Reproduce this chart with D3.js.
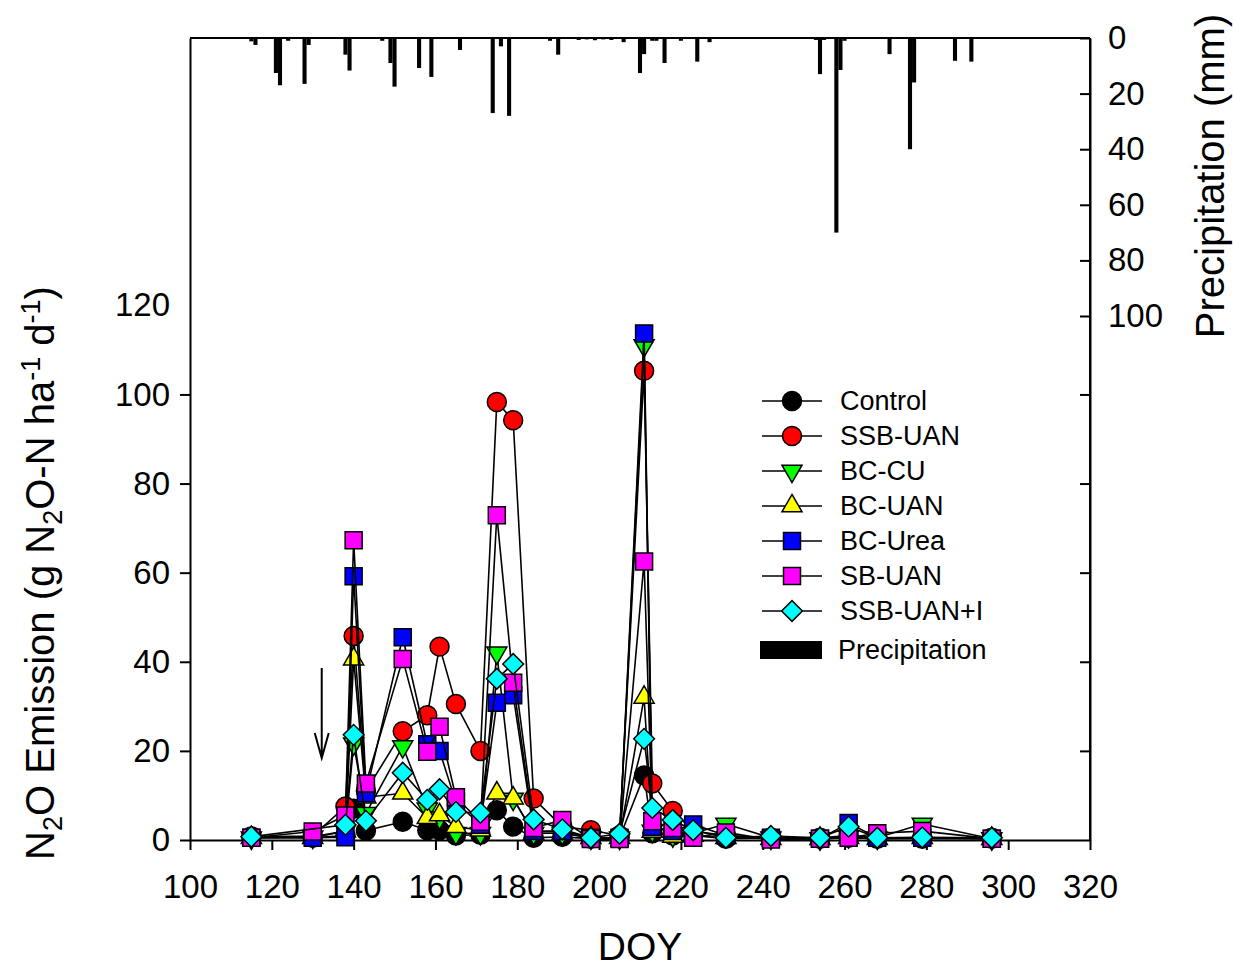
<!DOCTYPE html>
<html>
<head>
<meta charset="utf-8">
<script src="https://cdn.jsdelivr.net/npm/d3@7"></script>
<style>
  body { margin: 0; background: #fff; }
  svg { font-family: "Liberation Sans", Arial, sans-serif; }
  .axis path, .axis line { stroke: #000; stroke-width: 2; }
  .axis text { font-size: 33px; fill: #000; }
</style>
</head>
<body>
<div id="chart"></div>
<script>
// sampling days
const doy = [115,130,138,140,143,152,158,161,165,171,175,179,184,191,198,205,211,213,218,223,231,242,254,261,268,279,296];

// N2O emission (g N2O-N ha-1 d-1) per treatment
const control = [0.8,0.5,1.0,7.0,2.1,4.1,2.2,2.2,1.0,1.2,6.7,3.0,0.5,0.7,0.3,0.5,14.5,1.5,1.0,1.0,0.3,0.5,0.3,0.5,0.3,0.3,0.3];
const ssbUan = [0.7,0.9,7.5,45.8,11.0,24.4,28.0,43.4,30.5,20.0,98.3,94.2,9.3,3.0,2.2,1.0,105.3,12.7,6.5,2.0,1.0,0.5,0.5,1.0,0.5,0.5,0.5];
const bcCu = [0.5,0.7,2.0,21.6,6.0,21.0,7.0,5.0,1.5,1.5,42.0,9.2,1.5,1.5,0.5,0.5,111.0,2.0,1.0,1.5,3.6,0.5,0.3,0.8,0.5,3.6,0.3];
const bcUan = [0.5,0.5,2.0,40.6,9.6,10.5,5.0,5.6,3.0,2.2,10.5,9.4,1.5,1.5,0.5,0.5,32.0,1.9,0.8,1.0,0.5,0.3,0.3,0.5,0.3,0.5,0.3];
const bcUrea = [0.5,0.5,0.6,59.2,10.5,45.5,21.5,20.0,8.5,3.4,30.8,32.5,2.0,2.0,0.5,0.5,113.7,3.0,2.0,3.5,1.0,0.5,0.3,3.8,0.5,0.5,0.3];
const sbUan = [0.5,1.9,5.5,67.3,12.7,40.6,19.8,25.4,9.6,4.1,72.9,35.3,2.7,4.5,0.2,0.2,62.5,4.2,2.7,0.5,1.7,0.1,0.3,0.5,1.5,2.0,0.3];
const ssbUanI = [0.75,null,3.4,23.6,4.3,15.1,9.0,11.4,6.3,6.1,36.2,39.5,4.6,2.4,0.5,1.4,22.7,7.2,4.5,2.2,0.5,0.9,0.5,3.0,0.5,0.6,0.5];

const seriesNames = ["Control","SSB-UAN","BC-CU","BC-UAN","BC-Urea","SB-UAN","SSB-UAN+I"];
const seriesColors = ["#000000","#ff0000","#00ff00","#ffff00","#0000ff","#ff00ff","#00ffff"];

// daily precipitation (mm)
const precipDoy = [115,116,121,122,124,128,129,138,139,147,149,150,156,159,166,174,176,178,188,190,195,197,199,201,203,206,210,211,213,214,216,220,224,227,253,254,255,258,259,260,271,276,277,287,291];
const precipMm = [1.2,2.5,12.6,17,1,16.5,2.5,6,11.7,1,9,17.5,10.8,14,4.3,27,3,28,1,6,0.7,0.5,0.8,0.5,0.7,1.5,12.6,5.8,1,1,9,1,8.5,1.5,0.7,13,0.7,70,11.5,1,5.8,40,16,8.2,8.5];

// tick values
const xTicks = [100,120,140,160,180,200,220,240,260,280,300,320];
const yTicks = [0,20,40,60,80,100,120];
const pTicks = [0,20,40,60,80,100];

// fertilizer application arrow (DOY, from, to)
const arrowDoy = 132.2, arrowFrom = 38.6, arrowTo = 18.4;

let chart_width = 1233;
let chart_height = 969;
let plotLeft = 190, plotRight = 1090, plotTop = 38, plotBottom = 840;

let x = d3.scaleLinear().domain([100, 320]).range([plotLeft, plotRight]);
let y = d3.scaleLinear().domain([0, 180]).range([plotBottom, plotTop]);
let yP = d3.scaleLinear().domain([0, 288.5]).range([plotTop, plotBottom]);

let svg = d3.select("#chart").append("svg")
  .attr("width", chart_width)
  .attr("height", chart_height);

// precipitation bars hanging from the top
let dayW = x(101) - x(100);
svg.append("g").selectAll("rect")
  .data(precipDoy.map((d, i) => ({d: d, v: precipMm[i]})))
  .enter().append("rect")
  .attr("x", d => x(d.d) - dayW / 2)
  .attr("y", plotTop)
  .attr("width", dayW)
  .attr("height", d => yP(d.v) - plotTop)
  .attr("fill", "#000");

// axes
svg.append("g").attr("class", "axis")
  .attr("transform", "translate(0," + plotBottom + ")")
  .call(d3.axisBottom(x).tickValues(xTicks).tickSize(10).tickPadding(25).tickSizeOuter(0));

let yAxis = svg.append("g").attr("class", "axis")
  .attr("transform", "translate(" + plotLeft + ",0)")
  .call(d3.axisLeft(y).tickValues(yTicks).tickSize(10).tickPadding(10).tickSizeOuter(0));
yAxis.selectAll(".tick").filter(d => d === 120).select("line").remove();

svg.append("g").attr("class", "axis")
  .attr("transform", "translate(" + plotRight + ",0)")
  .call(d3.axisRight(y).tickValues([20,40,60,80,100]).tickSize(-10).tickFormat("").tickSizeOuter(0));

svg.append("g").attr("class", "axis")
  .attr("transform", "translate(" + plotRight + ",0)")
  .call(d3.axisRight(yP).tickValues(pTicks).tickSize(-10).tickPadding(18).tickSizeOuter(0))
  .call(g => g.select(".domain").remove());

svg.append("line")
  .attr("x1", plotLeft).attr("x2", plotRight).attr("y1", plotTop).attr("y2", plotTop)
  .attr("stroke", "#000").attr("stroke-width", 2);
svg.append("line")
  .attr("x1", plotRight).attr("x2", plotRight).attr("y1", plotTop).attr("y2", plotBottom)
  .attr("stroke", "#000").attr("stroke-width", 2);

// symbols
let symbols = [
  d3.symbol().type(d3.symbolCircle).size(283),
  d3.symbol().type(d3.symbolCircle).size(283),
  d3.symbol().type(d3.symbolTriangle).size(175),
  d3.symbol().type(d3.symbolTriangle).size(175),
  d3.symbol().type(d3.symbolSquare).size(289),
  d3.symbol().type(d3.symbolSquare).size(289),
  d3.symbol().type(d3.symbolSquare).size(215)
];
let rotations = [0, 0, 180, 0, 0, 0, 45];

let allSeries = [control, ssbUan, bcCu, bcUan, bcUrea, sbUan, ssbUanI];
let line = d3.line().x(d => x(d.d)).y(d => y(d.v));

allSeries.forEach((vals, i) => {
  let pts = doy.map((d, j) => ({d: d, v: vals[j]})).filter(p => p.v != null);
  let g = svg.append("g");
  g.append("path")
    .datum(pts)
    .attr("d", line)
    .attr("fill", "none")
    .attr("stroke", "#000")
    .attr("stroke-width", 1.6);
  g.selectAll("path.pt")
    .data(pts)
    .enter().append("path")
    .attr("class", "pt")
    .attr("d", symbols[i])
    .attr("transform", d => "translate(" + x(d.d) + "," + y(d.v) + ") rotate(" + rotations[i] + ")")
    .attr("fill", seriesColors[i])
    .attr("stroke", "#000")
    .attr("stroke-width", 1.5);
});

// arrow
let ax = x(arrowDoy), a0 = y(arrowFrom), a1 = y(arrowTo);
svg.append("path")
  .attr("d", "M" + ax + "," + a0 + "L" + ax + "," + a1 +
    "M" + (ax - 7) + "," + (a1 - 25) + "L" + ax + "," + a1 + "L" + (ax + 7) + "," + (a1 - 25))
  .attr("fill", "none")
  .attr("stroke", "#000")
  .attr("stroke-width", 2);

// legend
let legend = svg.append("g");
let lx0 = 762, lx1 = 822, ly = 401, lstep = 35;
seriesNames.forEach((name, i) => {
  let yy = ly + i * lstep;
  legend.append("line")
    .attr("x1", lx0).attr("x2", lx1).attr("y1", yy).attr("y2", yy)
    .attr("stroke", "#000").attr("stroke-width", 1.6);
  legend.append("path")
    .attr("d", symbols[i])
    .attr("transform", "translate(" + ((lx0 + lx1) / 2) + "," + yy + ") rotate(" + rotations[i] + ")")
    .attr("fill", seriesColors[i])
    .attr("stroke", "#000")
    .attr("stroke-width", 1.5);
  legend.append("text")
    .attr("x", 840).attr("y", yy)
    .attr("dy", "0.35em")
    .style("font-size", "27px")
    .text(name);
});
legend.append("rect")
  .attr("x", 760).attr("y", 641).attr("width", 62).attr("height", 18)
  .attr("fill", "#000");
legend.append("text")
  .attr("x", 838).attr("y", 650)
  .attr("dy", "0.35em")
  .style("font-size", "27px")
  .text("Precipitation");

// titles
svg.append("text")
  .attr("x", (plotLeft + plotRight) / 2)
  .attr("y", 960)
  .attr("text-anchor", "middle")
  .style("font-size", "39px")
  .text("DOY");

let yTitle = svg.append("text")
  .attr("transform", "translate(54,573) rotate(-90)")
  .attr("text-anchor", "middle")
  .style("font-size", "40px");
yTitle.append("tspan").text("N");
yTitle.append("tspan").attr("dy", 8).style("font-size", "27px").text("2");
yTitle.append("tspan").attr("dy", -8).text("O Emission (g N");
yTitle.append("tspan").attr("dy", 8).style("font-size", "27px").text("2");
yTitle.append("tspan").attr("dy", -8).text("O-N ha");
yTitle.append("tspan").attr("dy", -14).style("font-size", "27px").text("-1");
yTitle.append("tspan").attr("dy", 14).text(" d");
yTitle.append("tspan").attr("dy", -14).style("font-size", "27px").text("-1");
yTitle.append("tspan").attr("dy", 14).text(")");

svg.append("text")
  .attr("transform", "translate(1224,176) rotate(-90)")
  .attr("text-anchor", "middle")
  .style("font-size", "40px")
  .text("Precipitation (mm)");
</script>
</body>
</html>
